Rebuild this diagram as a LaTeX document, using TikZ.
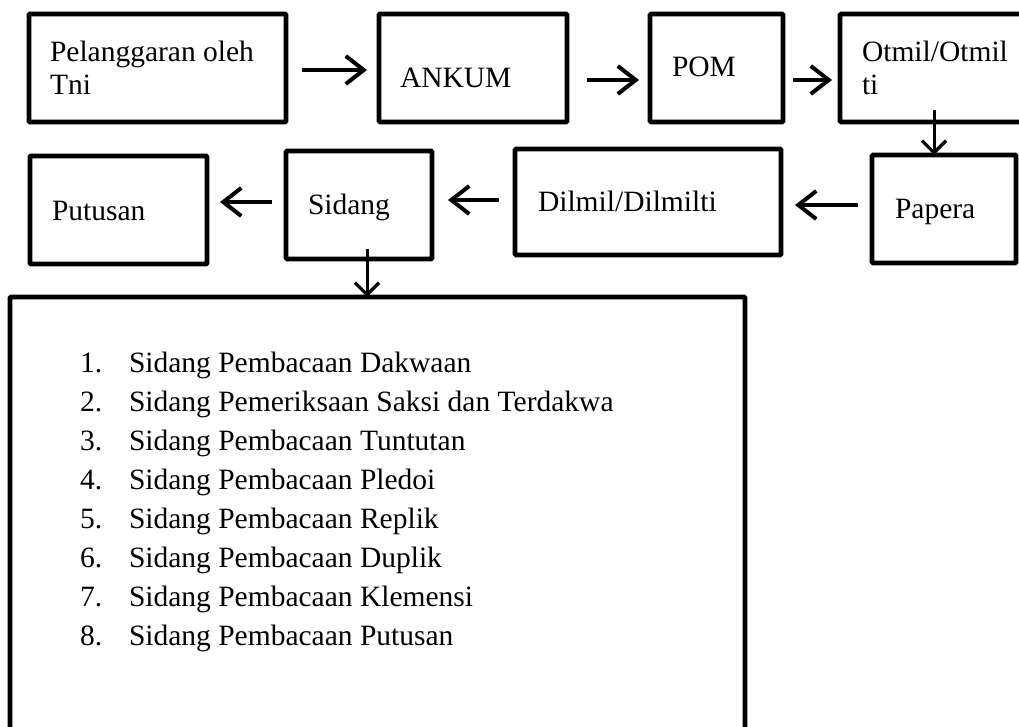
\documentclass[tikz,border=0pt]{standalone}
\usepackage{fontspec}
\setmainfont{Liberation Serif}
\usetikzlibrary{arrows.meta}
\begin{document}
\begin{tikzpicture}[x=1pt,y=-1pt,
  box/.style={draw, line width=4.6pt, rounded corners=1pt, anchor=north west, inner sep=0pt, outer sep=0pt},
  lbl/.style={anchor=base west, inner sep=0pt, outer sep=0pt, align=left, font=\fontsize{29.5}{33}\selectfont},
  harr/.style={line width=4pt, -{Straight Barb[length=18pt, width=28pt, line width=4pt]}},
  varr/.style={line width=3pt, -{Straight Barb[length=12pt, width=24pt, line width=3.2pt]}}
]
\useasboundingbox (0,0) rectangle (1019,727);
\begin{scope}
\clip (0,0) rectangle (1019,727);
% first row
\node[box, minimum width=257, minimum height=108] (pel) at (29,14) {};
\node[box, minimum width=188, minimum height=108] (ankum) at (379,14) {};
\node[box, minimum width=133, minimum height=108] (pom) at (650,14) {};
\node[box, minimum width=200, minimum height=108] (otmil) at (840,14) {};
% second row
\node[box, minimum width=144, minimum height=108] (papera) at (872,155) {};
\node[box, minimum width=266, minimum height=106] (dilmil) at (515,149) {};
\node[box, minimum width=146, minimum height=108] (sidang) at (286,151) {};
\node[box, minimum width=177, minimum height=108] (putusan) at (30,156) {};
% big box
\node[box, minimum width=735, minimum height=460] (list) at (10,297) {};
% labels (base = baseline of last line)
\node[lbl] (tpel) at (50,95) {Pelanggaran oleh\\Tni};
\node[lbl] (tankum) at (400,88) {ANKUM};
\node[lbl] (tpom) at (672,77) {POM};
\node[lbl] (totmil) at (862,95) {Otmil/Otmil\\ti};
\node[lbl] (tpapera) at (895,219) {Papera};
\node[lbl] (tdilmil) at (538,212) {Dilmil/Dilmilti};
\node[lbl] (tsidang) at (308,215) {Sidang};
\node[lbl] (tputusan) at (52,221) {Putusan};
\node[lbl, font=\fontsize{29.5}{38.9}\selectfont] (tlist) at (80,645) {%
\makebox[49pt][l]{1.}Sidang Pembacaan Dakwaan\\
\makebox[49pt][l]{2.}Sidang Pemeriksaan Saksi dan Terdakwa\\
\makebox[49pt][l]{3.}Sidang Pembacaan Tuntutan\\
\makebox[49pt][l]{4.}Sidang Pembacaan Pledoi\\
\makebox[49pt][l]{5.}Sidang Pembacaan Replik\\
\makebox[49pt][l]{6.}Sidang Pembacaan Duplik\\
\makebox[49pt][l]{7.}Sidang Pembacaan Klemensi\\
\makebox[49pt][l]{8.}Sidang Pembacaan Putusan};
% connectors
\draw[harr] ([shift={(16,2)}]pel.east) -- ([shift={(-12,2)}]ankum.west);
\draw[harr] ([shift={(20,12)}]ankum.east) -- ([shift={(-11,12)}]pom.west);
\draw[harr] ([shift={(10,12)}]pom.east) -- ([shift={(-8,12)}]otmil.west);
\draw[varr] ([shift={(-6,-12)}]otmil.south) -- ([xshift=62]papera.north west);
\draw[harr] ([shift={(-14,-4)}]papera.west) -- ([shift={(14,3)}]dilmil.east);
\draw[harr] ([shift={(-16,-2)}]dilmil.west) -- ([shift={(16,-5)}]sidang.east);
\draw[harr] ([shift={(-14,-3)}]sidang.west) -- ([shift={(13,-8)}]putusan.east);
\draw[varr] ([shift={(8,-10)}]sidang.south) -- ([xshift=357]list.north west);
\end{scope}
\end{tikzpicture}
\end{document}
